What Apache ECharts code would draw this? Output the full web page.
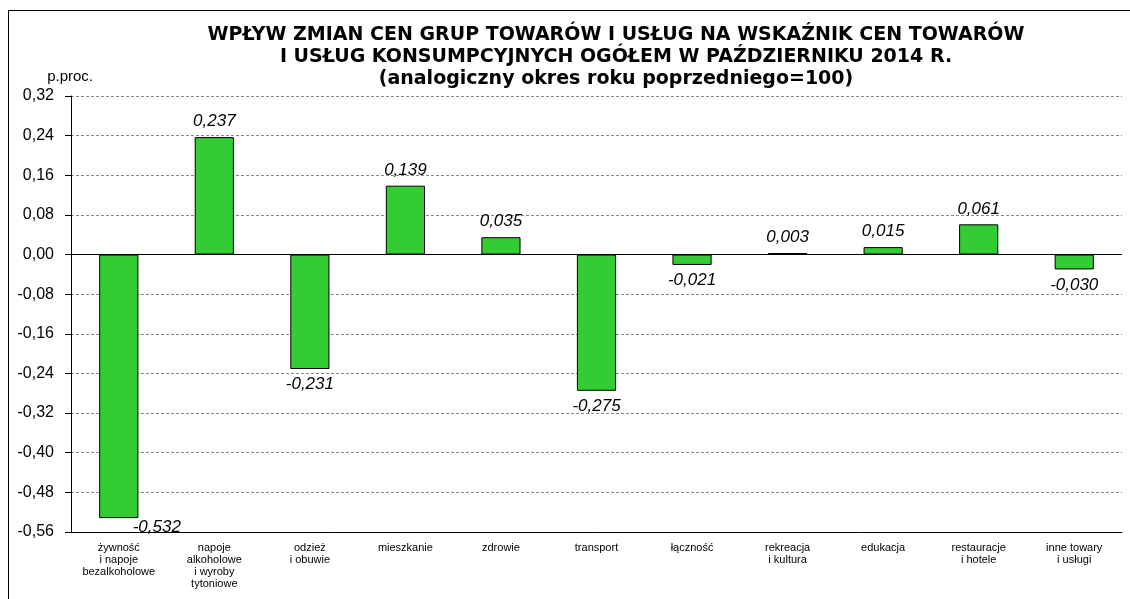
<!DOCTYPE html>
<html>
<head>
<meta charset="utf-8">
<script src="https://cdn.jsdelivr.net/npm/echarts@6/dist/echarts.min.js"></script>
<style>
  html, body { margin: 0; padding: 0; background: #fff; }
  #frame { position: absolute; left: 8px; top: 10px; width: 1130px; height: 600px; border: 1px solid #000; box-sizing: border-box; }
  #chart { width: 1130px; height: 599px; position: absolute; left: 0; top: 0; }
</style>
</head>
<body>
<div id="frame"></div>
<div id="chart"></div>
<script>
// kategorie i wartości (p.proc.)
var categories = [
  "żywność\ni napoje\nbezalkoholowe",
  "napoje\nalkoholowe\ni wyroby\ntytoniowe",
  "odzież\ni obuwie",
  "mieszkanie",
  "zdrowie",
  "transport",
  "łączność",
  "rekreacja\ni kultura",
  "edukacja",
  "restauracje\ni hotele",
  "inne towary\ni usługi"
];
var values = [-0.532, 0.237, -0.231, 0.139, 0.035, -0.275, -0.021, 0.003, 0.015, 0.061, -0.030];
var titleLines = [
  "WPŁYW ZMIAN CEN GRUP TOWARÓW I USŁUG NA WSKAŹNIK CEN TOWARÓW",
  "I USŁUG KONSUMPCYJNYCH OGÓŁEM W PAŹDZIERNIKU 2014 R.",
  "(analogiczny okres roku poprzedniego=100)"
];
var unit = "p.proc.";

var myChart = echarts.init(document.getElementById("chart"));
var font = "Liberation Sans, Arial, sans-serif";

function fmt(v, d) {
  return v.toFixed(d).replace(".", ",");
}

var option = {
  animation: false,
  title: {
    text: titleLines.join("\n"),
    left: 611,
    top: 19,
    textAlign: "center",
    textStyle: {
      fontFamily: "DejaVu Sans, sans-serif",
      fontSize: 19,
      fontWeight: "bold",
      color: "#000",
      lineHeight: 22
    }
  },
  grid: {
    left: 71,
    right: 8,
    top: 96,
    bottom: 67,
    containLabel: false
  },
  xAxis: {
    type: "category",
    data: categories,
    position: "bottom",
    axisLine: { onZero: false, lineStyle: { color: "#000", width: 1 } },
    axisTick: { show: false },
    axisLabel: {
      interval: 0,
      margin: 10,
      fontFamily: font,
      fontSize: 11,
      lineHeight: 12,
      color: "#000"
    }
  },
  yAxis: {
    type: "value",
    name: unit,
    nameLocation: "end",
    nameGap: 12,
    nameTextStyle: { fontFamily: font, fontSize: 15, color: "#000", align: "right", padding: [0, -22, 0, 0] },
    min: -0.56,
    max: 0.32,
    interval: 0.08,
    axisLine: { show: true, lineStyle: { color: "#000" } },
    axisTick: { show: true, length: 6, lineStyle: { color: "#000" } },
    axisLabel: {
      fontFamily: font,
      fontSize: 16,
      color: "#000",
      margin: 17,
      formatter: function (v) { return fmt(v, 2); }
    },
    splitLine: { show: true, lineStyle: { color: "#888", type: [3, 2], width: 1 } }
  },
  series: [{
    type: "bar",
    data: values.map(function (v, i) {
      var item = { value: v, label: { position: v < 0 ? "bottom" : "top" } };
      if (i === 0) {
        item.label.offset = [38, -6];
      }
      return item;
    }),
    barWidth: "41%",
    itemStyle: { color: "#33CC33", borderColor: "#000", borderWidth: 1 },
    label: {
      show: true,
      distance: 7,
      fontFamily: font,
      fontSize: 17,
      fontStyle: "italic",
      color: "#000",
      formatter: function (p) { return fmt(p.value, 3); }
    },
    markLine: {
      silent: true,
      symbol: "none",
      label: { show: false },
      lineStyle: { color: "#000", type: "solid", width: 1 },
      data: [{ yAxis: 0 }]
    }
  }]
};

window.onresize = myChart.resize;
myChart.setOption(option);
</script>
</body>
</html>
